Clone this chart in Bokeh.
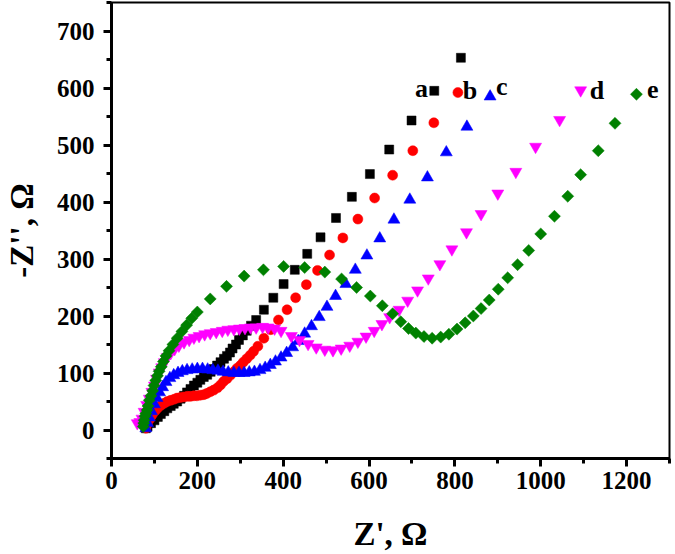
from bokeh.plotting import figure
from bokeh.models import Range1d, SingleIntervalTicker, ColumnDataSource
from bokeh.core.properties import value
from bokeh.embed import file_html
from bokeh.resources import INLINE
import numpy as np

# ---- data ----
a_x = [80, 84, 92, 100, 108, 115, 123, 130, 138, 145, 153, 161, 169, 176, 184, 192, 200, 207, 215, 223, 231,
       238, 246, 254, 262, 269, 276, 282, 290, 297, 306, 315, 325, 337, 355, 377, 401, 427, 456, 487, 523,
       560, 602, 647, 699, 752, 814]
a_y = [3, 6, 12, 17, 23, 28, 33, 38, 42, 46, 50, 55, 60, 66, 72, 78, 83, 88, 93, 97, 102,
       107, 113, 119, 125, 130, 136, 143, 150, 158, 166, 174, 183, 193, 211, 232, 256, 281, 309, 338, 372,
       409, 449, 492, 543, 595, 653]

b_x = [80, 84, 90, 95, 101, 107, 115, 123, 130, 138, 146, 153, 161, 169, 177, 184, 192, 199, 207, 215, 222,
       230, 238, 247, 254, 261, 269, 277, 285, 292, 300, 307, 315, 323, 331, 341, 355, 371, 389, 409, 429,
       454, 480, 508, 539, 574, 613, 655, 702, 751, 807]
b_y = [3, 11, 20, 27, 33, 38, 43, 47, 50, 52, 54, 56, 57, 58, 59, 59, 60, 60, 61, 62, 64,
       67, 70, 74, 79, 85, 90, 96, 102, 108, 113, 119, 125, 131, 138, 147, 161, 176, 193, 211, 232,
       255, 280, 307, 337, 370, 407, 447, 490, 539, 592]

c_x = [80, 84, 88, 93, 100, 106, 112, 119, 127, 136, 145, 155, 165, 176, 188, 200, 212, 224, 236, 248, 260,
       272, 285, 297, 309, 321, 333, 346, 358, 370, 382, 395, 408, 422, 435, 450, 466, 484, 502, 522, 546,
       568, 595, 625, 658, 695, 736, 780, 828, 882]
c_y = [3, 12, 22, 33, 45, 56, 66, 75, 84, 91, 96, 100, 103, 105, 106, 107, 107, 106, 105, 104, 102,
       101, 100, 100, 100, 101, 102, 105, 109, 114, 120, 127, 135, 145, 156, 169, 182, 198, 216, 235, 256,
       281, 306, 336, 369, 404, 443, 487, 532, 585]

d_x = [60, 66, 71, 76, 82, 88, 94, 100, 105, 111, 117, 123, 130, 138, 147, 157, 169, 181, 192, 204, 217,
       230, 244, 258, 271, 285, 298, 311, 324, 337, 352, 365, 380, 395, 419, 438, 458, 477, 497, 516, 535,
       555, 574, 593, 612, 630, 648, 670, 690, 713, 738, 765, 793, 827, 861, 900, 942, 988, 1044, 1093]
d_y = [12, 14, 20, 32, 44, 55, 67, 78, 90, 101, 110, 119, 128, 135, 142, 148, 154, 158, 162, 165, 168,
       170, 172, 174, 176, 177, 178, 179, 180, 180, 181, 180, 178, 174, 165, 158, 151, 145, 141, 140, 143,
       148, 155, 164, 174, 186, 198, 211, 227, 245, 266, 291, 317, 347, 379, 415, 453, 497, 544, 596]

e_x = [74, 75, 76, 78, 80, 83, 85, 88, 92, 96, 99, 103, 107, 111, 116, 121, 127, 134, 143, 153, 164,
       175, 187, 200, 230, 268, 309, 354, 401, 450, 497, 536, 571, 603, 631, 655, 674, 692, 709, 728, 747,
       767, 786, 805, 824, 843, 861, 880, 901, 923, 946, 972, 1000, 1032, 1063, 1093, 1134, 1173, 1223]
e_y = [6, 12, 17, 24, 29, 35, 42, 52, 60, 69, 78, 87, 95, 103, 111, 120, 130, 139, 150, 161, 173,
       184, 196, 207, 230, 252, 270, 281, 287, 285, 277, 265, 250, 235, 218, 204, 190, 178, 170, 164, 161,
       163, 168, 177, 188, 200, 213, 228, 247, 267, 290, 315, 344, 375, 410, 448, 490, 538, 589]

label_text = ["a", "b", "c", "d", "e"]
label_x = [722, 835, 909, 1131, 1261]
label_y = [599, 596, 602, 596, 597]

x_title = "Z', \u03a9"
y_title = "-Z'', \u03a9"

FONT = "Liberation Serif"

p = figure(width=673, height=554, output_backend="svg", toolbar_location=None,
           x_range=Range1d(0, 1300), y_range=Range1d(-50, 750),
           min_border_left=107, min_border_right=4, min_border_top=2, min_border_bottom=94)

p.xgrid.visible = False
p.ygrid.visible = False
p.outline_line_color = "black"
p.outline_line_width = 2
p.background_fill_color = "white"
p.border_fill_color = "white"

p.xaxis.ticker = SingleIntervalTicker(interval=200, num_minor_ticks=2)
p.yaxis.ticker = SingleIntervalTicker(interval=100, num_minor_ticks=2)

for ax in (p.xaxis[0], p.yaxis[0]):
    ax.axis_line_width = 3
    ax.axis_line_color = "black"
    ax.major_tick_line_width = 3
    ax.minor_tick_line_width = 3
    ax.major_tick_line_color = "black"
    ax.minor_tick_line_color = "black"
    ax.major_tick_out = 8
    ax.major_tick_in = 0
    ax.minor_tick_out = 5
    ax.minor_tick_in = 0
    ax.major_label_text_font = FONT
    ax.major_label_text_font_style = "bold"
    ax.major_label_text_font_size = "25px"
    ax.major_label_text_color = "black"
    ax.axis_label_text_font = FONT
    ax.axis_label_text_font_style = "bold"
    ax.axis_label_text_font_size = "33px"
    ax.axis_label_text_color = "black"

p.xaxis.axis_label = x_title
p.yaxis.axis_label = y_title
p.xaxis.major_label_standoff = 5
p.xaxis.axis_label_standoff = 24
p.yaxis.major_label_standoff = 9
p.yaxis.axis_label_standoff = 14

series = [
    (a_x, a_y, "square", 9, 0.0, "black"),
    (b_x, b_y, "circle", 10, 0.0, "red"),
    (c_x, c_y, "triangle", 12, 0.0, "blue"),
    (d_x, d_y, "inverted_triangle", 12, 0.0, "magenta"),
    (e_x, e_y, "square", 8.5, np.pi / 4, "green"),
]
for xs, ys, mk, sz, ang, col in series:
    src = ColumnDataSource(dict(x=xs, y=ys))
    p.scatter("x", "y", source=src, marker=mk, size=sz, angle=ang,
              fill_color=col, line_color=col, line_width=0.5)

lab_src = ColumnDataSource(dict(x=label_x, y=label_y, t=label_text))
p.text("x", "y", text="t", source=lab_src, text_font=value(FONT), text_font_style="bold",
       text_font_size="26px", text_align="center", text_baseline="alphabetic", text_color="black")

open("out.html", "w").write(file_html(p, INLINE))
